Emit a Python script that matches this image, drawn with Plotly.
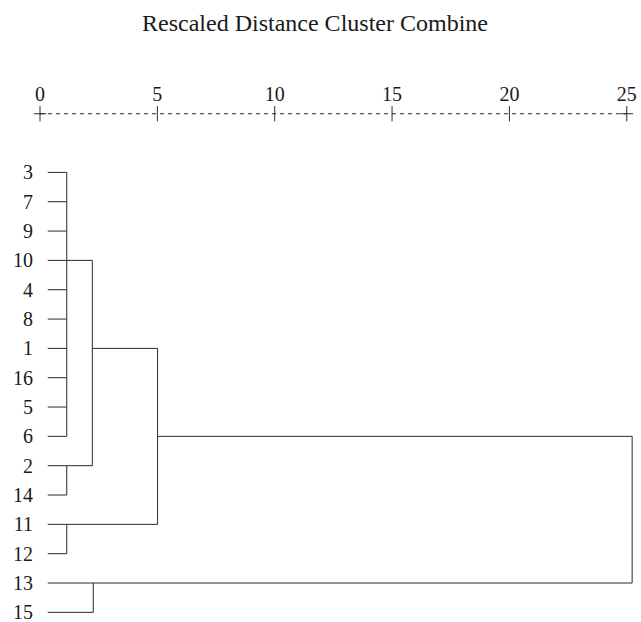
import plotly.graph_objects as go

# ---------------- data ----------------
leaves = ["3", "7", "9", "10", "4", "8", "1", "16", "5", "6", "2", "14", "11", "12", "13", "15"]

node_names = ["A", "B", "AB", "C", "ABC", "D", "ROOT"]
node_children = [
    ["3", "7", "9", "10", "4", "8", "1", "16", "5", "6"],
    ["2", "14"],
    ["A", "B"],
    ["11", "12"],
    ["AB", "C"],
    ["13", "15"],
    ["ABC", "D"],
]
node_dist = [1.14, 1.14, 2.23, 1.14, 5.01, 2.27, 25.23]
node_anchor = ["10", "2", "1", "11", "6", "13", "6"]   # row where the cluster's line leaves

axis_ticks = [0, 5, 10, 15, 20, 25]
title_text = "Rescaled Distance Cluster Combine"

# ---------------- style ----------------
FONT = "Liberation Serif, Times New Roman, serif"
INK = "#1a1a1a"
LINE = "#2a2a2a"
LEAF_X = 0.33
AXIS_ROW = -2.0
TICK_HALF = 0.26
STUB = 0.27
TICKLABEL_ROW = -2.6

row_of = {name: i for i, name in enumerate(leaves)}
pos = {name: (LEAF_X, i) for i, name in enumerate(leaves)}

xs, ys = [], []
for name, kids, d, anc in zip(node_names, node_children, node_dist, node_anchor):
    kid_rows = []
    for k in kids:
        kx, ky = pos[k]
        xs += [kx, d, None]
        ys += [ky, ky, None]
        kid_rows.append(ky)
    xs += [d, d, None]
    ys += [min(kid_rows), max(kid_rows), None]
    pos[name] = (d, row_of[anc])

fig = go.Figure()

fig.add_trace(go.Scatter(x=xs, y=ys, mode="lines", cliponaxis=False,
                         line=dict(color=LINE, width=1), hoverinfo="skip", showlegend=False))

# top scale: dashed line with crosses / ticks
lo, hi = min(axis_ticks), max(axis_ticks)
fig.add_trace(go.Scatter(x=[lo, hi], y=[AXIS_ROW, AXIS_ROW], mode="lines",
                         line=dict(color=LINE, width=1, dash="4px,4px"),
                         hoverinfo="skip", showlegend=False))
tx, ty = [], []
for t in axis_ticks:
    tx += [t, t, None]
    ty += [AXIS_ROW - TICK_HALF, AXIS_ROW + TICK_HALF, None]
for t in (lo, hi):
    tx += [t - STUB, t + STUB, None]
    ty += [AXIS_ROW, AXIS_ROW, None]
fig.add_trace(go.Scatter(x=tx, y=ty, mode="lines", cliponaxis=False,
                         line=dict(color=LINE, width=1), hoverinfo="skip", showlegend=False))
fig.add_trace(go.Scatter(x=axis_ticks, y=[TICKLABEL_ROW] * len(axis_ticks), mode="text",
                         text=[str(t) for t in axis_ticks], textposition="middle center",
                         cliponaxis=False,
                         textfont=dict(family=FONT, size=20, color=INK),
                         hoverinfo="skip", showlegend=False))

W, H = 641, 622
ML, MR, MT, MB = 34, 4, 60, 0
PX0, PXU = 40.0, 23.47
PY0, PYU = 172.4, 29.33
x_range = [(ML - PX0) / PXU, (W - MR - PX0) / PXU]
y_range = [(H - MB - PY0) / PYU, (MT - PY0) / PYU]

fig.update_layout(
    width=W, height=H,
    margin=dict(l=ML, r=MR, t=MT, b=MB),
    paper_bgcolor="white", plot_bgcolor="white",
    title=dict(text=title_text, x=315 / W, xanchor="center",
               y=1 - 23 / H, yanchor="middle", yref="container",
               font=dict(family=FONT, size=24, color=INK)),
    xaxis=dict(range=x_range, visible=False, fixedrange=True),
    yaxis=dict(range=y_range, autorange=False, showgrid=False, zeroline=False,
               showline=False, ticks="", tickmode="array",
               tickvals=list(range(len(leaves))), ticktext=leaves,
               tickfont=dict(family=FONT, size=20, color=INK),
               ticklabelstandoff=0, ticklabeloverflow="allow",
               automargin=False, fixedrange=True),
)

fig.write_html(
    "out.html",
    config={"displayModeBar": False, "staticPlot": True},
    post_script="document.body.style.margin='0';document.body.style.overflow='hidden';",
)
